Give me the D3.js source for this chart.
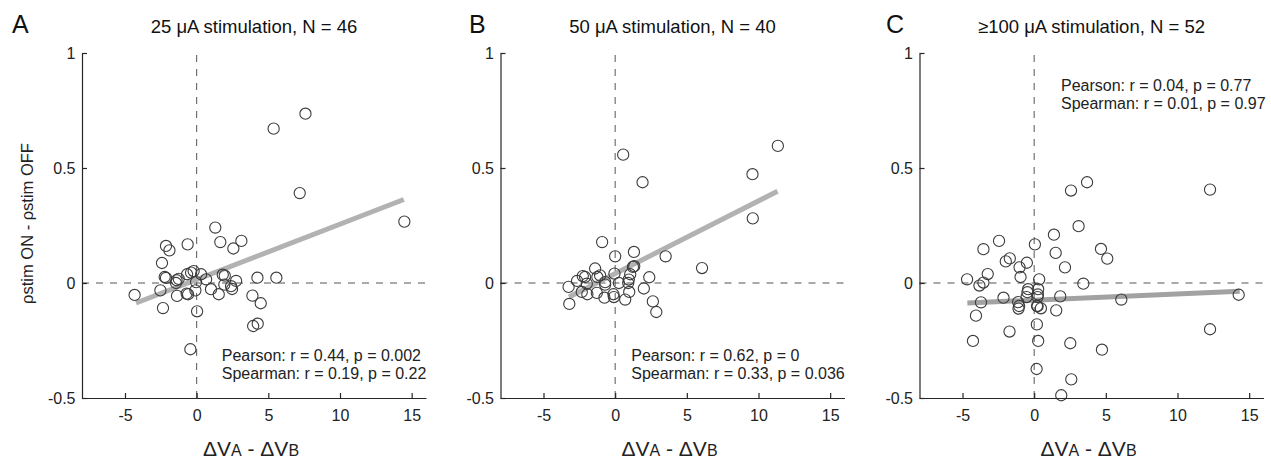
<!DOCTYPE html>
<html>
<head>
<meta charset="utf-8">
<script src="https://cdn.jsdelivr.net/npm/d3@7"></script>
<style>
  html, body { margin: 0; padding: 0; background: #fff; }
  svg { display: block; font-family: "Liberation Sans", Arial, Helvetica, sans-serif; }
</style>
</head>
<body>
<svg id="chart" width="1271" height="461"></svg>
<script>
// ---------------- data ----------------
const xDomain = [-8, 16];
const yDomain = [-0.5, 1];
const xTicks = [-5, 0, 5, 10, 15];
const xTickLabels = ["-5", "0", "5", "10", "15"];
const yTicks = [-0.5, 0, 0.5, 1];
const yTickLabels = ["-0.5", "0", "0.5", "1"];

const panelLetters = ["A", "B", "C"];
const panelTitles = ["25 \u03BCA stimulation, N = 46", "50 \u03BCA stimulation, N = 40", "\u2265100 \u03BCA stimulation, N = 52"];
const statsPearson = ["Pearson: r = 0.44, p = 0.002", "Pearson: r = 0.62, p = 0", "Pearson: r = 0.04, p = 0.77"];
const statsSpearman = ["Spearman: r = 0.19, p = 0.22", "Spearman: r = 0.33, p = 0.036", "Spearman: r = 0.01, p = 0.97"];

const xA = [7.59, 5.37, 7.19, 14.49, 1.30, 1.65, 3.12, 2.56, -0.63, -2.14, -1.90, -2.42, -4.33, -2.53, -2.35, -2.23,
  -2.14, -1.40, -1.44, -1.37, -0.70, -0.60, -0.67, -0.39, -0.21, -0.04, -0.09, 0.31, 0.03, -0.44, 0.66, 1.00,
  1.54, 1.82, 1.96, 1.93, 2.40, 2.47, 2.75, 4.24, 5.56, 3.89, 4.47, 3.94, 4.26, -1.25];
const yA = [0.736, 0.671, 0.391, 0.267, 0.241, 0.178, 0.183, 0.150, 0.168, 0.161, 0.142, 0.087, -0.052, -0.032, -0.109, 0.026,
  0.022, 0.012, 0.000, -0.056, -0.046, -0.049, 0.038, 0.045, 0.052, 0.004, -0.032, 0.038, -0.123, -0.288, 0.016, -0.027,
  -0.049, 0.036, 0.032, -0.007, -0.014, -0.026, 0.009, 0.023, 0.023, -0.055, -0.088, -0.187, -0.177, 0.018];

const xB = [-3.25, -3.20, -2.66, -2.26, -2.10, -1.98, -2.33, -1.94, -1.40, -1.24, -1.05, -1.28, -0.70, -0.70, -0.75, -0.91,
  0.00, -0.05, -0.12, -0.09, 0.26, 0.70, 0.91, 0.98, 1.05, 1.24, 1.33, 1.31, 2.00, 2.38, 2.63, 2.87, 3.52, 6.06,
  0.56, 1.91, 9.58, 9.60, 11.35, 0.95];
const yB = [-0.017, -0.091, 0.009, 0.030, 0.026, -0.003, -0.039, -0.049, 0.063, 0.026, 0.033, -0.043, 0.004, -0.007, -0.064, 0.178,
  0.116, 0.041, -0.049, -0.061, 0.000, -0.072, 0.000, -0.039, 0.038, 0.070, 0.073, 0.135, -0.024, 0.025, -0.080, -0.126, 0.116, 0.065,
  0.558, 0.438, 0.473, 0.281, 0.596, 0.015];

const xC = [3.69, 2.57, 12.27, 3.10, 1.38, -2.45, -3.54, 0.05, 1.50, 4.66, 5.10, -1.98, -1.70, -0.51, -1.02, 2.15,
  -3.24, -0.95, -4.68, -3.82, -3.54, 0.35, 3.43, -0.42, 0.28, -0.53, 0.24, -2.14, 1.82, -3.71, -1.12, -1.09,
  0.24, 0.47, 1.54, 6.08, 14.27, -4.06, 0.19, -1.72, 12.27, -4.27, 0.28, 2.52, 4.73, 0.17, 2.59, 1.89,
  0.26, -0.47, 0.20, -1.05];
const yC = [0.438, 0.402, 0.406, 0.247, 0.210, 0.183, 0.147, 0.168, 0.131, 0.148, 0.106, 0.094, 0.107, 0.088, 0.068, 0.068,
  0.039, 0.026, 0.016, -0.011, 0.002, 0.016, -0.003, -0.027, -0.027, -0.061, -0.061, -0.064, -0.058, -0.084, -0.083, -0.111,
  -0.101, -0.110, -0.119, -0.072, -0.051, -0.142, -0.180, -0.211, -0.201, -0.252, -0.252, -0.262, -0.290, -0.374, -0.419, -0.488,
  -0.050, -0.040, -0.100, -0.100];

// regression line end points
const fitX = [[-4.23, 14.45], [-3.22, 11.33], [-4.66, 14.34]];
const fitY = [[-0.087, 0.363], [-0.061, 0.399], [-0.087, -0.036]];

// ---------------- layout ----------------
const panelLeft = [82, 500.5, 919.5];
const letterX = [12, 469, 886];
const plotTop = 53, plotW = 344, plotH = 345;
const statsAnchor = [[1.75, 361], [1.12, 361], [1.87, 91]]; // [data x, pixel baseline]
const fitColor = ["#b2b2b2", "#b2b2b2", "#a2a2a2"];
const axisColor = "#262626";
const fontTick = 16, fontTitle = 18.5;

const xs = [xA, xB, xC], ys = [yA, yB, yC];
const svg = d3.select("#chart");

for (let p = 0; p < 3; p++) {
  const g = svg.append("g").attr("transform", `translate(${panelLeft[p]},${plotTop})`);
  const x = d3.scaleLinear().domain(xDomain).range([0, plotW]);
  const y = d3.scaleLinear().domain(yDomain).range([plotH, 0]);

  // dashed reference lines
  g.append("line").attr("x1", x(0)).attr("x2", x(0)).attr("y1", y(yDomain[0])).attr("y2", y(yDomain[1]))
    .attr("stroke", "#555").attr("stroke-width", 1).attr("stroke-dasharray", "7,7");
  g.append("line").attr("x1", x(xDomain[0])).attr("x2", x(xDomain[1])).attr("y1", y(0)).attr("y2", y(0))
    .attr("stroke", "#555").attr("stroke-width", 1).attr("stroke-dasharray", "7,7");

  // regression line
  g.append("line")
    .attr("x1", x(fitX[p][0])).attr("y1", y(fitY[p][0]))
    .attr("x2", x(fitX[p][1])).attr("y2", y(fitY[p][1]))
    .attr("stroke", fitColor[p]).attr("stroke-width", 5);

  // points
  const pts = xs[p].map((v, i) => ({ x: v, y: ys[p][i] }));
  g.selectAll("circle.pt").data(pts).enter().append("circle")
    .attr("class", "pt")
    .attr("cx", d => x(d.x)).attr("cy", d => y(d.y)).attr("r", 5.6)
    .attr("fill", "none").attr("stroke", "#3c3c3c").attr("stroke-width", 1.1);

  // axes
  const xAxis = d3.axisBottom(x).tickValues(xTicks).tickFormat((d, i) => xTickLabels[i])
    .tickSizeInner(-5).tickSizeOuter(0).tickPadding(12);
  const gx = g.append("g").attr("transform", `translate(0,${plotH})`).call(xAxis);
  const yAxis = d3.axisLeft(y).tickValues(yTicks).tickFormat((d, i) => yTickLabels[i])
    .tickSizeInner(-5).tickSizeOuter(0).tickPadding(6.5);
  const gy = g.append("g").call(yAxis);
  [gx, gy].forEach(a => {
    a.select(".domain").attr("stroke", axisColor).attr("stroke-width", 1.2);
    a.selectAll(".tick line").attr("stroke", axisColor).attr("stroke-width", 1.2);
    a.selectAll(".tick text").attr("fill", "#222").style("font-size", fontTick + "px")
      .style("font-family", '"Liberation Sans", Arial, sans-serif');
  });

  // stats text
  g.append("text").attr("x", x(statsAnchor[p][0])).attr("y", statsAnchor[p][1] - plotTop)
    .attr("fill", "#222").style("font-size", "16px").text(statsPearson[p]);
  g.append("text").attr("x", x(statsAnchor[p][0])).attr("y", statsAnchor[p][1] - plotTop + 18)
    .attr("fill", "#222").style("font-size", "16px").text(statsSpearman[p]);

  // title
  svg.append("text").attr("x", panelLeft[p] + plotW / 2).attr("y", 33)
    .attr("text-anchor", "middle").attr("fill", "#111").style("font-size", fontTitle + "px")
    .text(panelTitles[p]);

  // panel letter
  svg.append("text").attr("x", letterX[p]).attr("y", 33)
    .attr("fill", "#111").style("font-size", "25px").text(panelLetters[p]);

  // x-axis label
  const xl = svg.append("text").attr("x", panelLeft[p] + plotW / 2 - 3).attr("y", 456)
    .attr("text-anchor", "middle").attr("fill", "#222").style("font-size", "21px");
  xl.append("tspan").text("\u0394V");
  xl.append("tspan").style("font-size", "16px").text("A");
  xl.append("tspan").text(" - \u0394V");
  xl.append("tspan").style("font-size", "16px").text("B");
}

// y-axis label (panel A only)
svg.append("text")
  .attr("transform", `translate(33,${plotTop + plotH / 2 - 2}) rotate(-90)`)
  .attr("text-anchor", "middle").attr("fill", "#222").style("font-size", "16.5px")
  .text("\u03C1stim ON - \u03C1stim OFF");
</script>
</body>
</html>
